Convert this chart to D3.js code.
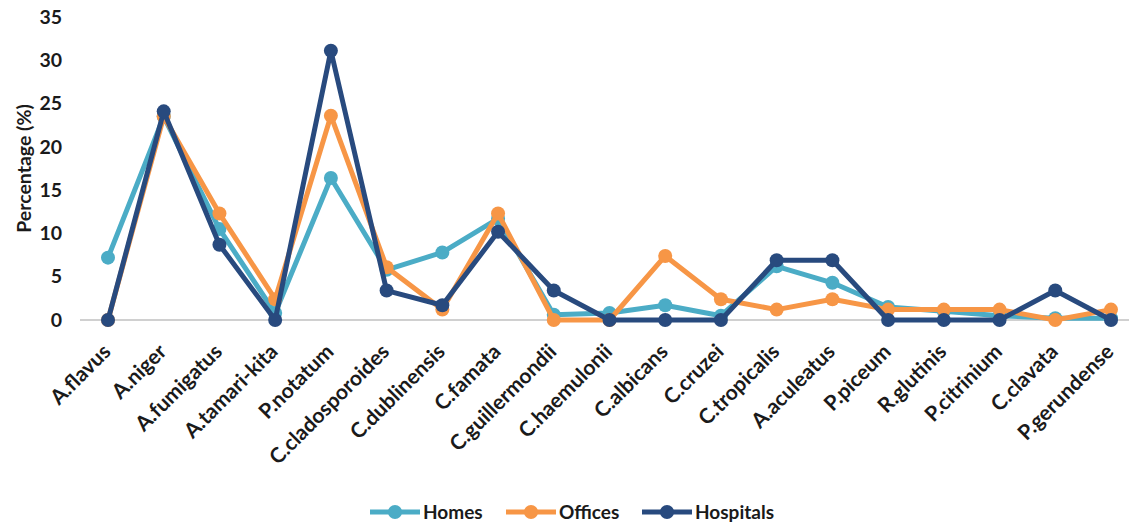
<!DOCTYPE html>
<html>
<head>
<meta charset="utf-8">
<script src="https://cdn.jsdelivr.net/npm/d3@7"></script>
<style>
  body { margin: 0; background: #fff; }
  svg { font-family: Lato, "Open Sans", sans-serif; font-weight: bold; }
</style>
</head>
<body>
<div id="chart"></div>
<script>
// DATA -------------------------------------------------------------
const species = ["A.flavus", "A.niger", "A.fumigatus", "A.tamari-kita", "P.notatum",
  "C.cladosporoides", "C.dublinensis", "C.famata", "C.guillermondii", "C.haemulonii",
  "C.albicans", "C.cruzei", "C.tropicalis", "A.aculeatus", "P.piceum", "R.glutinis",
  "P.citrinium", "C.clavata", "P.gerundense"];
const homes     = [7.2, 23.5, 10.5, 0.8, 16.4, 5.8, 7.8, 11.7, 0.6, 0.8, 1.7, 0.5, 6.2, 4.3, 1.5, 1.0, 0.5, 0.2, 0.2];
const offices   = [0, 23.5, 12.3, 2.4, 23.6, 6.1, 1.2, 12.3, 0, 0, 7.4, 2.4, 1.2, 2.4, 1.2, 1.2, 1.2, 0, 1.2];
const hospitals = [0, 24.1, 8.7, 0, 31.1, 3.4, 1.7, 10.2, 3.4, 0, 0, 0, 6.9, 6.9, 0, 0, 0, 3.4, 0];
const yTicks = [0, 5, 10, 15, 20, 25, 30, 35];
const seriesNames = ["Homes", "Offices", "Hospitals"];
// DATA -------------------------------------------------------------

const width = 1129, height = 525;
const margin = { top: 17, right: 0, bottom: 205, left: 80 };
const colors = { Homes: "#4bacc6", Offices: "#f79646", Hospitals: "#284a7e" };
const series = [
  { name: "Homes", values: homes },
  { name: "Offices", values: offices },
  { name: "Hospitals", values: hospitals },
];

const svg = d3.select("#chart").append("svg")
  .attr("width", width).attr("height", height);

const x = d3.scalePoint()
  .domain(species)
  .range([108, 1111]);

const y = d3.scaleLinear()
  .domain([0, 35])
  .range([height - margin.bottom, margin.top]);

// baseline
svg.append("line")
  .attr("x1", margin.left).attr("x2", width)
  .attr("y1", y(0)).attr("y2", y(0))
  .attr("stroke", "#d0d0d0").attr("stroke-width", 2);

// y axis labels
const yAxis = svg.append("g")
  .attr("transform", `translate(${margin.left - 18},0)`)
  .call(d3.axisLeft(y).tickValues(yTicks).tickSize(0).tickPadding(0));
yAxis.select(".domain").remove();
yAxis.selectAll("text")
  .attr("font-size", 19.5).attr("fill", "#1a1a1a")
  .attr("font-family", "Lato, 'Open Sans', sans-serif").attr("font-weight", "bold");

svg.append("text")
  .attr("transform", `translate(31, ${(y(0) + y(35)) / 2}) rotate(-90)`)
  .attr("text-anchor", "middle")
  .attr("font-size", 19.5).attr("fill", "#1a1a1a")
  .text("Percentage (%)");

// x labels
svg.append("g").selectAll("text").data(species).enter()
  .append("text")
  .attr("transform", (d) => `translate(${x(d) + 4}, ${y(0) + 33}) rotate(-45)`)
  .attr("text-anchor", "end")
  .attr("font-size", 21).attr("fill", "#1a1a1a")
  .text((d) => d);

// lines
const line = d3.line()
  .x((d, i) => x(species[i]))
  .y((d) => y(d));

const groups = svg.append("g").selectAll("g").data(series).enter()
  .append("g");

groups.append("path")
  .attr("d", (s) => line(s.values))
  .attr("fill", "none")
  .attr("stroke", (s) => colors[s.name])
  .attr("stroke-width", 5)
  .attr("stroke-linejoin", "round");

groups.selectAll("circle").data((s) => s.values.map((v, i) => ({ v, i, name: s.name }))).enter()
  .append("circle")
  .attr("cx", (d) => x(species[d.i]))
  .attr("cy", (d) => y(d.v))
  .attr("r", 7)
  .attr("fill", (d) => colors[d.name]);

// legend
const legendItems = [
  { name: "Homes", x: 370 },
  { name: "Offices", x: 506 },
  { name: "Hospitals", x: 642 },
];
const legendY = 512;
const legend = svg.append("g").selectAll("g").data(legendItems).enter()
  .append("g")
  .attr("transform", (d) => `translate(${d.x}, ${legendY})`);
legend.append("line")
  .attr("x1", 0).attr("x2", 50)
  .attr("stroke", (d) => colors[d.name]).attr("stroke-width", 5);
legend.append("circle")
  .attr("cx", 25).attr("r", 7)
  .attr("fill", (d) => colors[d.name]);
legend.append("text")
  .attr("x", 53).attr("dy", "0.35em")
  .attr("font-size", 19).attr("fill", "#1a1a1a")
  .text((d) => d.name);
</script>
</body>
</html>
